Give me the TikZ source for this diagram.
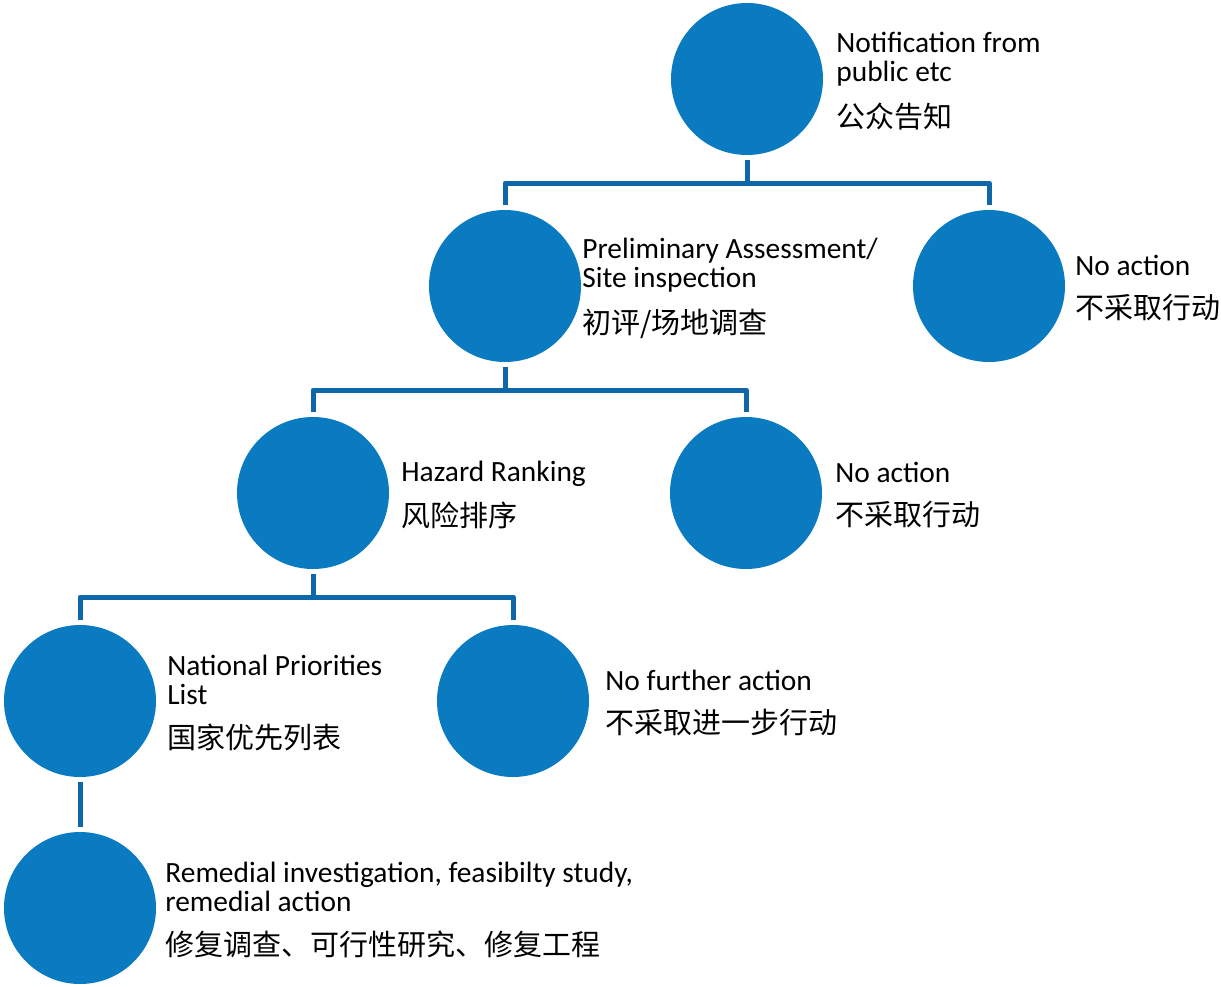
\documentclass[tikz,border=0pt]{standalone}
\usepackage{fontspec}
\setmainfont{Carlito}
\newfontfamily\cjk{Noto Sans CJK SC}
\usetikzlibrary{positioning}
\definecolor{circblue}{HTML}{0B7BC1}
\definecolor{linkblue}{HTML}{0D67A8}
\newcommand{\zh}[1]{{\cjk\fontsize{14.5}{14.5}\selectfont #1}}

\begin{document}
\begin{tikzpicture}[x=0.5pt, y=-0.5pt,
    circ/.style={circle, fill=circblue, minimum size=76pt, inner sep=0pt, outer sep=0pt},
    txt/.style={align=left, inner sep=0pt, yshift=-1pt, font=\fontsize{14.7}{14.5}\selectfont},
    link/.style={draw=linkblue, line width=2.5pt, line join=round, shorten <=2.5pt, shorten >=2.5pt} ]

    \useasboundingbox (0,0) rectangle (1221,986);

    %Circles
    \node[circ] (notif) at (747,79) {};
    \node[circ] (prelim) at (505,286) {};
    \node[circ] (noact_a) at (989,286) {};
    \node[circ] (hazard) at (313,493) {};
    \node[circ] (noact_b) at (746,493) {};
    \node[circ] (npl) at (80,701) {};
    \node[circ] (nofurther) at (513,701) {};
    \node[circ] (remedial) at (80,908) {};

    %Labels
    \node[txt, right=6.5pt of notif] (notif_txt) {Notification from\\public etc\\[7.5pt]\zh{公众告知}};
    \node[txt, right=0.5pt of prelim] (prelim_txt) {Preliminary Assessment/\\Site inspection\\[7.5pt]\zh{初评/场地调查}};
    \node[txt, right=5pt of noact_a] (noact_a_txt) {No action\\[7pt]\zh{不采取行动}};
    \node[txt, right=6pt of hazard] (hazard_txt) {Hazard Ranking\\[7pt]\zh{风险排序}};
    \node[txt, right=6.5pt of noact_b] (noact_b_txt) {No action\\[7pt]\zh{不采取行动}};
    \node[txt, right=5.5pt of npl] (npl_txt) {National Priorities\\List\\[7.5pt]\zh{国家优先列表}};
    \node[txt, right=8pt of nofurther] (nofurther_txt) {No further action\\[7pt]\zh{不采取进一步行动}};
    \node[txt, right=4.5pt of remedial] (remedial_txt) {Remedial investigation, feasibilty study,\\remedial action\\[7.5pt]\zh{修复调查、可行性研究、修复工程}};

    %Lines
    \draw[link] (notif.south) -- ++(0,28) -| (prelim.north);
    \draw[link] (notif.south) -- ++(0,28) -| (noact_a.north);
    \draw[link] (prelim.south) -- ++(0,28) -| (hazard.north);
    \draw[link] (prelim.south) -- ++(0,28) -| (noact_b.north);
    \draw[link] (hazard.south) -- ++(0,28) -| (npl.north);
    \draw[link] (hazard.south) -- ++(0,28) -| (nofurther.north);
    \draw[link] (npl.south) -- (remedial.north);
\end{tikzpicture}
\end{document}
